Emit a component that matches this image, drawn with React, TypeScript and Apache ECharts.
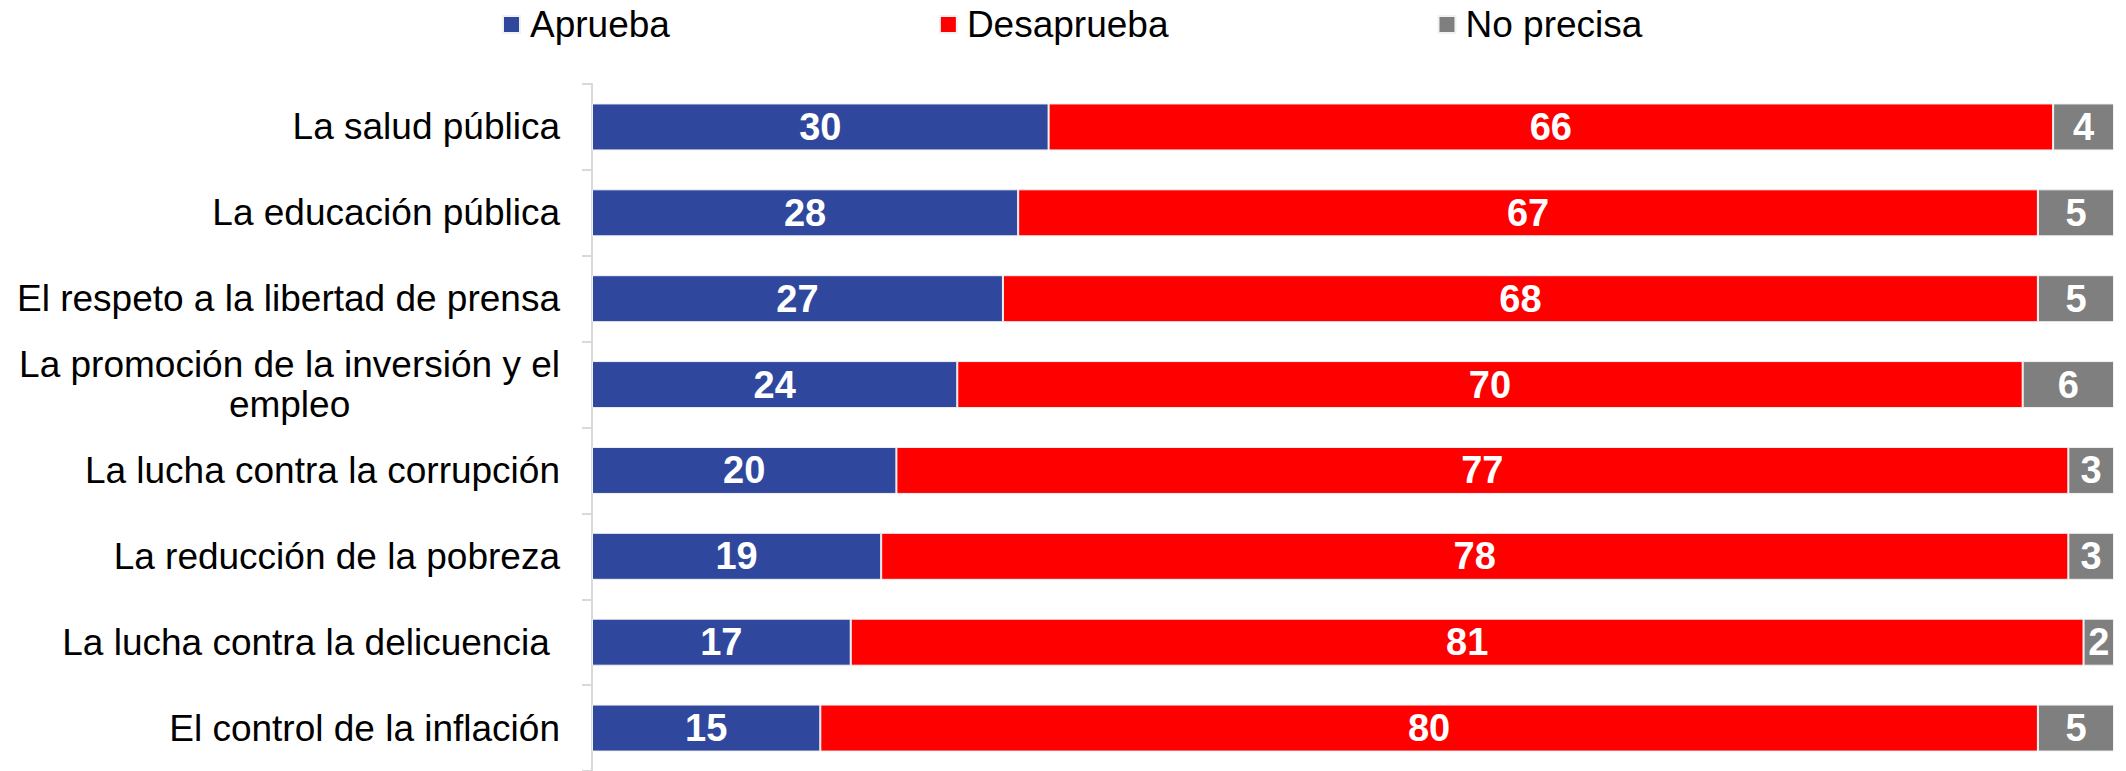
import React, { useEffect, useRef } from "react";
import * as echarts from "echarts";

const categories = [
  "La salud pública",
  "La educación pública",
  "El respeto a la libertad de prensa",
  "La promoción de la inversión y el\nempleo",
  "La lucha contra la corrupción",
  "La reducción de la pobreza",
  "La lucha contra la delicuencia ",
  "El control de la inflación",
];
const aprueba = [30, 28, 27, 24, 20, 19, 17, 15];
const desaprueba = [66, 67, 68, 70, 77, 78, 81, 80];
const noPrecisa = [4, 5, 5, 6, 3, 3, 2, 5];
const seriesNames = ["Aprueba", "Desaprueba", "No precisa"];
const colors = ["#2F489E", "#FF0000", "#7F7F7F"];

const FONT = "'Liberation Sans', Arial, sans-serif";
const LABEL_SIZE = 37;

function measure(text: string): number {
  const c = document.createElement("canvas");
  const ctx = c.getContext("2d")!;
  ctx.font = `${LABEL_SIZE}px ${FONT}`;
  return ctx.measureText(text).width;
}

export default function App() {
  const ref = useRef<HTMLDivElement>(null);
  useEffect(() => {
    document.body.style.margin = "0";
    const chart = echarts.init(ref.current!, null, { renderer: "svg" });
    const dataSets = [aprueba, desaprueba, noPrecisa];

    // multi-line label: centre the shorter line under the longer one
    const multi = categories.find((c) => c.indexOf("\n") >= 0) || "";
    const lines = multi.split("\n");
    const w1 = lines[0] ? measure(lines[0]) : 0;
    const w2 = lines[1] ? measure(lines[1]) : 0;
    const pad = Math.max(0, (w1 - w2) / 2);

    chart.setOption({
      animation: false,
      backgroundColor: "#ffffff",
      textStyle: { fontFamily: FONT },
      legend: {
        left: 497,
        top: 1,
        itemWidth: 17,
        itemHeight: 17,
        itemGap: 269,
        icon: "rect",
        textStyle: { fontSize: 37, color: "#000", fontFamily: FONT, padding: [0, 0, 0, 5] },
        data: seriesNames,
      },
      grid: { left: 592, right: 12, top: 84, bottom: 0, containLabel: false },
      xAxis: {
        type: "value",
        min: 0,
        max: 100,
        show: false,
      },
      yAxis: {
        type: "category",
        inverse: true,
        data: categories,
        axisLine: { show: true, lineStyle: { color: "#D9D9D9", width: 2 } },
        axisTick: { show: true, length: 10, lineStyle: { color: "#D9D9D9", width: 2 } },
        axisLabel: {
          margin: 32,
          color: "#000",
          fontSize: LABEL_SIZE,
          lineHeight: 40,
          fontFamily: FONT,
          formatter: (v: string) => {
            if (v.indexOf("\n") < 0) return v;
            const parts = v.split("\n");
            return `{a|${parts[0]}}\n{b|${parts[1]}}`;
          },
          rich: {
            a: { fontSize: LABEL_SIZE, lineHeight: 40, color: "#000", fontFamily: FONT },
            b: {
              fontSize: LABEL_SIZE,
              lineHeight: 40,
              color: "#000",
              fontFamily: FONT,
              padding: [0, pad, 0, pad],
            },
          },
        },
      },
      series: dataSets.map((d, i) => ({
        name: seriesNames[i],
        type: "bar",
        stack: "total",
        barWidth: 47,
        data: d,
        itemStyle: { color: colors[i], borderColor: "#F2F2F2", borderWidth: 1 },
        label: {
          show: true,
          position: "inside",
          color: "#fff",
          fontWeight: "bold",
          fontSize: 38,
          fontFamily: FONT,
        },
      })),
    });
    return () => chart.dispose();
  }, []);
  return (
    <div
      ref={ref}
      style={{ position: "fixed", left: 0, top: 0, width: 2126, height: 771 }}
    />
  );
}
